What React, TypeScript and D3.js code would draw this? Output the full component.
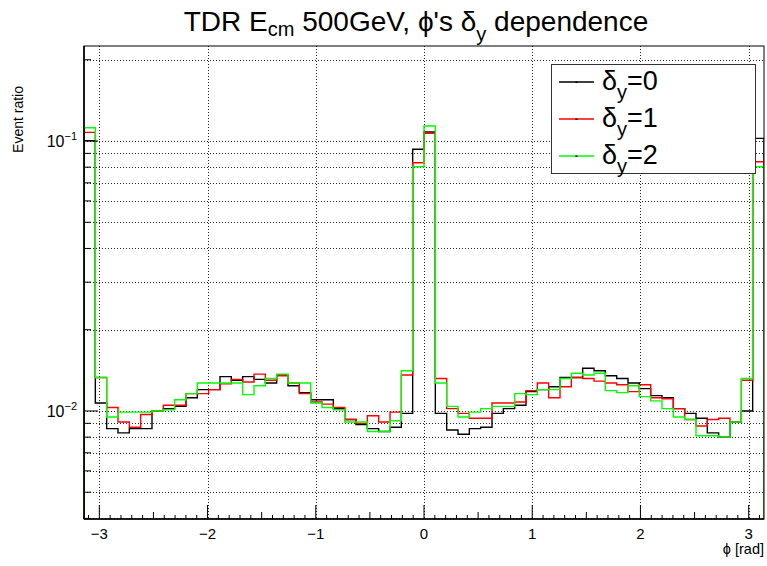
import React from 'react';
import * as d3 from 'd3';

// ---- data ----
const nBins = 60;
const phiMin = -Math.PI;
const phiMax = Math.PI;

const delta0: number[] = [
  0.1003, 0.0107, 0.0086, 0.0083, 0.0086, 0.0086, 0.0100, 0.0102, 0.0104, 0.0112,
  0.0120, 0.0120, 0.0134, 0.0130, 0.0134, 0.0131, 0.0127, 0.0136, 0.0124, 0.0117,
  0.0110, 0.0110, 0.0102, 0.0093, 0.0089, 0.0086, 0.0084, 0.0087, 0.0098, 0.0932,
  0.1080, 0.0098, 0.0085, 0.0082, 0.0086, 0.0087, 0.0098, 0.0102, 0.0105, 0.0118,
  0.0120, 0.0123, 0.0133, 0.0133, 0.0144, 0.0141, 0.0135, 0.0132, 0.0127, 0.0121,
  0.0114, 0.0112, 0.0102, 0.0098, 0.0094, 0.0083, 0.0080, 0.0091, 0.0100, 0.1023,
];
const delta1: number[] = [
  0.1077, 0.0133, 0.0103, 0.0091, 0.0087, 0.0097, 0.0100, 0.0105, 0.0105, 0.0116,
  0.0116, 0.0120, 0.0126, 0.0131, 0.0128, 0.0137, 0.0130, 0.0135, 0.0127, 0.0116,
  0.0108, 0.0106, 0.0103, 0.0093, 0.0090, 0.0096, 0.0091, 0.0099, 0.0136, 0.0831,
  0.1068, 0.0132, 0.0102, 0.0098, 0.0094, 0.0094, 0.0107, 0.0107, 0.0108, 0.0119,
  0.0127, 0.0112, 0.0123, 0.0133, 0.0132, 0.0129, 0.0127, 0.0125, 0.0118, 0.0125,
  0.0112, 0.0111, 0.0102, 0.0093, 0.0088, 0.0093, 0.0094, 0.0091, 0.0130, 0.0838,
];
const delta2: number[] = [
  0.1120, 0.0133, 0.0095, 0.0099, 0.0099, 0.0099, 0.0100, 0.0101, 0.0110, 0.0116,
  0.0127, 0.0127, 0.0127, 0.0127, 0.0115, 0.0124, 0.0132, 0.0137, 0.0127, 0.0127,
  0.0107, 0.0103, 0.0101, 0.0091, 0.0091, 0.0084, 0.0084, 0.0092, 0.0141, 0.0803,
  0.1137, 0.0127, 0.0104, 0.0095, 0.0099, 0.0102, 0.0104, 0.0104, 0.0116, 0.0115,
  0.0120, 0.0120, 0.0132, 0.0138, 0.0136, 0.0138, 0.0119, 0.0117, 0.0124, 0.0113,
  0.0109, 0.0102, 0.0095, 0.0093, 0.0081, 0.0081, 0.0080, 0.0091, 0.0132, 0.0803,
];

const seriesValues = [delta0, delta1, delta2];
const seriesLabels = ['0', '1', '2'];
const seriesColors = ['#000000', '#ff0000', '#00ff00'];

const xTickValues = [-3, -2, -1, 0, 1, 2, 3];
const xTickLabels = ['\u22123', '\u22122', '\u22121', '0', '1', '2', '3'];
const yMajorExps = [-1, -2];
const yMin = 0.00398;
const yMax = 0.2249;

// ---- layout ----
const W = 767;
const H = 566;
const L = 84;
const R = 764;
const T = 46;
const B = 519;
const FONT = '"Liberation Sans", Arial, Helvetica, sans-serif';

export default function App() {
  const x = d3.scaleLinear().domain([phiMin, phiMax]).range([L, R]);
  const y = d3.scaleLog().domain([yMin, yMax]).range([B, T]);

  const binW = (phiMax - phiMin) / nBins;
  const edges = d3.range(nBins + 1).map((i) => phiMin + i * binW);

  const stepLine = d3
    .line<[number, number]>()
    .x((d) => x(d[0]))
    .y((d) => y(d[1]))
    .curve(d3.curveStepAfter);

  const makePath = (vals: number[]) => {
    const pts: [number, number][] = [[edges[0], yMin]];
    vals.forEach((v, i) => pts.push([edges[i], v]));
    pts.push([edges[nBins], vals[nBins - 1]]);
    pts.push([edges[nBins], yMin]);
    return stepLine(pts) || '';
  };

  const logTicks: { v: number; major: boolean }[] = [];
  for (let e = -3; e <= 0; e++) {
    for (let m = 1; m <= 9; m++) {
      const v = m * Math.pow(10, e);
      if (v >= yMin * 0.999 && v <= yMax) logTicks.push({ v, major: m === 1 });
    }
  }

  const xMinor: { v: number; len: number }[] = [];
  for (let k = -32; k <= 32; k++) {
    const v = k / 10;
    if (v < phiMin || v > phiMax) continue;
    const len = k % 10 === 0 ? 14 : k % 5 === 0 ? 7 : 4;
    xMinor.push({ v, len });
  }

  const legX = 551;
  const legY = 64;
  const legW = 204;
  const legH = 109;
  const rowYs = [82, 119, 156];

  return (
    <svg
      width={W}
      height={H}
      style={{ position: 'absolute', left: 0, top: 0, background: '#fff' }}
      fontFamily={FONT}
    >
      <rect x={0} y={0} width={W} height={H} fill="#ffffff" />
      <defs>
        <clipPath id="frameClip">
          <rect x={L} y={T} width={R - L} height={B - T} />
        </clipPath>
      </defs>

      {/* grid */}
      <g stroke="#000" strokeWidth={1} strokeDasharray="1 2" opacity={0.85}>
        {logTicks.map((t, i) => (
          <line key={'gy' + i} x1={L} x2={R} y1={Math.round(y(t.v)) + 0.5} y2={Math.round(y(t.v)) + 0.5} />
        ))}
        {xTickValues.map((v, i) => (
          <line key={'gx' + i} x1={Math.round(x(v)) + 0.5} x2={Math.round(x(v)) + 0.5} y1={T} y2={B} />
        ))}
      </g>

      {/* histograms */}
      <g clipPath="url(#frameClip)" fill="none" strokeWidth={1.4}>
        {seriesValues.map((vals, i) => (
          <path key={'h' + i} d={makePath(vals)} stroke={seriesColors[i]} />
        ))}
      </g>

      {/* frame */}
      <rect x={L} y={T} width={R - L} height={B - T} fill="none" stroke="#000" strokeWidth={1} />
      <line x1={L} x2={L} y1={T} y2={B} stroke="#000" strokeWidth={1.6} />
      <line x1={L} x2={R} y1={B} y2={B} stroke="#000" strokeWidth={1.6} />

      {/* x ticks */}
      <g stroke="#000" strokeWidth={1}>
        {xMinor.map((t, i) => (
          <line key={'xt' + i} x1={x(t.v)} x2={x(t.v)} y1={B} y2={B - t.len} />
        ))}
      </g>
      <g fontSize={15} textAnchor="middle" fill="#000">
        {xTickValues.map((v, i) => (
          <text key={'xl' + i} x={x(v)} y={539}>
            {xTickLabels[i]}
          </text>
        ))}
      </g>
      <text x={R} y={554} fontSize={14.5} textAnchor="end">
        {'\u03d5 [rad]'}
      </text>

      {/* y ticks */}
      <g stroke="#000" strokeWidth={1}>
        {logTicks.map((t, i) => (
          <line key={'yt' + i} x1={L} x2={L + (t.major ? 14 : 7)} y1={y(t.v)} y2={y(t.v)} />
        ))}
      </g>
      <g fill="#000">
        {yMajorExps.map((e, i) => (
          <text key={'yl' + i} x={77} y={y(Math.pow(10, e)) + 6} fontSize={16} textAnchor="end">
            10
            <tspan dy={-7} fontSize={11}>{'\u2212' + Math.abs(e)}</tspan>
          </text>
        ))}
      </g>
      <text
        transform={`translate(23,86) rotate(-90)`}
        fontSize={14}
        textAnchor="end"
        fill="#000"
      >
        Event ratio
      </text>

      {/* title */}
      <text x={416} y={31} fontSize={28} textAnchor="middle" fill="#000">
        TDR E<tspan dy={5} fontSize={20}>cm</tspan>
        <tspan dy={-5}> 500GeV, </tspan>
        {'\u03d5\'s \u03b4'}
        <tspan dy={10} fontSize={20}>y</tspan>
        <tspan dy={-10}> dependence</tspan>
      </text>

      {/* legend */}
      <rect x={legX + 0.5} y={legY + 0.5} width={legW} height={legH} fill="#fff" stroke="#333" strokeWidth={1} />
      {seriesLabels.map((lab, i) => (
        <g key={'lg' + i}>
          <line x1={559} x2={594} y1={rowYs[i]} y2={rowYs[i]} stroke={seriesColors[i]} strokeWidth={1.4} />
          <rect x={575.5} y={rowYs[i] - 0.5} width={2} height={1.5} fill="#000" />
          <text x={602} y={rowYs[i] + 8} fontSize={27} fill="#000">
            {'\u03b4'}
            <tspan dy={9} fontSize={20}>y</tspan>
            <tspan dy={-9}>{'=' + lab}</tspan>
          </text>
        </g>
      ))}
    </svg>
  );
}
